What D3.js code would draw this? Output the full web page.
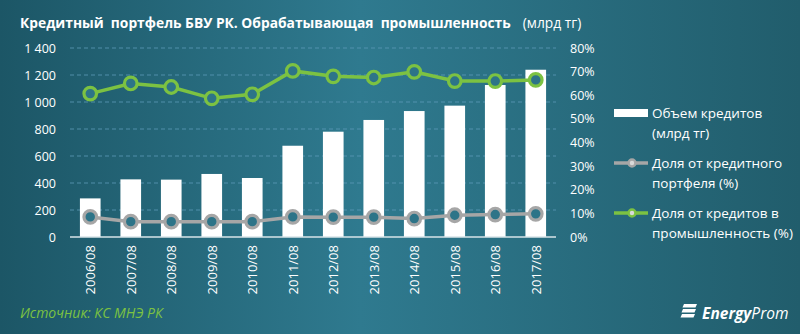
<!DOCTYPE html>
<html><head><meta charset="utf-8">
<script src="https://cdn.jsdelivr.net/npm/d3@7"></script>
<style>
html,body{margin:0;padding:0;overflow:hidden;}
svg{display:block;}
text{font-family:"Open Sans","DejaVu Sans",sans-serif;}
</style></head>
<body>
<svg id="c" width="800" height="334"></svg>
<script>
const categories = ["2006/08","2007/08","2008/08","2009/08","2010/08","2011/08","2012/08","2013/08","2014/08","2015/08","2016/08","2017/08"];
const loans = [286, 427, 425, 467, 437, 676, 780, 867, 933, 973, 1126, 1239];
const sharePortfolio = [8.5, 6.5, 6.5, 6.5, 6.5, 8.5, 8.4, 8.4, 7.8, 9.2, 9.5, 9.8];
const shareIndustry = [60.7, 65.0, 63.5, 58.7, 60.4, 70.3, 68.0, 67.5, 69.9, 66.0, 66.0, 66.5];
const leftTicks = [0,200,400,600,800,1000,1200,1400];
const rightTicks = [0,10,20,30,40,50,60,70,80];
const legendItems = [
  {type:"bar", lines:["Объем кредитов","(млрд тг)"]},
  {type:"gray", lines:["Доля от кредитного","портфеля (%)"]},
  {type:"green", lines:["Доля от кредитов в","промышленность (%)"]}
];

const W=800,H=334;
const svg=d3.select("#c");
const defs=svg.append("defs");
const g=defs.append("linearGradient").attr("id","bg").attr("x1","0").attr("x2","1").attr("y1","0").attr("y2","0");
g.append("stop").attr("offset","0").attr("stop-color","#1c5666");
g.append("stop").attr("offset","0.45").attr("stop-color","#2f7a8f");
g.append("stop").attr("offset","1").attr("stop-color","#215d6c");
svg.append("rect").attr("width",W).attr("height",H).attr("fill","url(#bg)");

const m={l:70,r:556,t:48,b:237};
const x=d3.scaleBand().domain(categories).range([m.l,m.r]).paddingInner(0.49).paddingOuter(0.245);
const xc=d=>x(d)+x.bandwidth()/2;
const yL=d3.scaleLinear().domain([0,1400]).range([m.b,m.t]);
const yR=d3.scaleLinear().domain([0,80]).range([m.b,m.t]);

// gridlines
svg.append("g").selectAll("line").data(leftTicks.filter(t=>t>0)).join("line")
  .attr("x1",m.l).attr("x2",m.r).attr("y1",d=>yL(d)).attr("y2",d=>yL(d))
  .attr("stroke","#5d9ab8").attr("stroke-width",1).attr("stroke-dasharray","4,3").attr("opacity",0.8);

// left axis
const fmt=d=>d3.format(",")(d).replace(/,/g," ");
const ax=svg.append("g").attr("transform",`translate(${m.l},0)`)
  .call(d3.axisLeft(yL).tickValues(leftTicks).tickFormat(fmt).tickSize(0).tickPadding(14));
ax.select(".domain").remove();
ax.selectAll("text").attr("fill","#ffffff").attr("font-size","12.5px");

// right axis
const ar=svg.append("g").attr("transform",`translate(${m.r},0)`)
  .call(d3.axisRight(yR).tickValues(rightTicks).tickFormat(d=>d+"%").tickSize(0).tickPadding(14));
ar.select(".domain").remove();
ar.selectAll("text").attr("fill","#ffffff").attr("font-size","12.5px");

// bars
svg.append("g").selectAll("rect").data(loans).join("rect")
  .attr("x",(d,i)=>x(categories[i])).attr("width",x.bandwidth())
  .attr("y",d=>yL(d)).attr("height",d=>yL(0)-yL(d)).attr("fill","#ffffff");

// baseline
svg.append("line").attr("x1",m.l).attr("x2",m.r).attr("y1",m.b).attr("y2",m.b).attr("stroke","#d9e4e8").attr("stroke-width",1.5);

// x labels
svg.append("g").selectAll("text").data(categories).join("text")
  .attr("transform",d=>`translate(${xc(d)+5},${m.b+8}) rotate(-90)`)
  .attr("text-anchor","end").attr("fill","#ffffff").attr("font-size","13px").text(d=>d);

function series(vals,color){
  const line=d3.line().x((d,i)=>xc(categories[i])).y(d=>yR(d));
  svg.append("path").datum(vals).attr("d",line).attr("fill","none").attr("stroke",color).attr("stroke-width",3.5);
  svg.append("g").selectAll("circle").data(vals).join("circle")
    .attr("cx",(d,i)=>xc(categories[i])).attr("cy",d=>yR(d)).attr("r",6.3)
    .attr("fill","#2d7488").attr("stroke",color).attr("stroke-width",3.2);
}
series(sharePortfolio,"#a6a6a6");
series(shareIndustry,"#7cc242");

// legend
const lg=svg.append("g");
legendItems.forEach((it,i)=>{
  const y0=113+i*50;
  if(it.type==="bar"){
    lg.append("rect").attr("x",614).attr("y",y0-4).attr("width",34).attr("height",8).attr("fill","#fff");
  } else {
    const col=it.type==="gray"?"#a6a6a6":"#7cc242";
    lg.append("line").attr("x1",614).attr("x2",648).attr("y1",y0).attr("y2",y0).attr("stroke",col).attr("stroke-width",3.5);
    lg.append("circle").attr("cx",632).attr("cy",y0).attr("r",3.5).attr("fill","#d9d9d9").attr("stroke",col).attr("stroke-width",2.5);
  }
  it.lines.forEach((t,j)=>{
    lg.append("text").attr("x",652).attr("y",y0+5+j*20).attr("fill","#fff").attr("font-size","13.5px").text(t);
  });
});

// title
const tt=svg.append("text").attr("x",20).attr("y",28).attr("fill","#fff").attr("font-size","13.8px").style("white-space","pre");
tt.append("tspan").attr("font-weight","bold").text("Кредитный  портфель БВУ РК. Обрабатывающая  промышленность");
tt.append("tspan").attr("dx",12).text("(млрд тг)");

// source
svg.append("text").attr("x",20).attr("y",318).attr("fill","#7cc242").attr("font-size","14px").attr("font-style","italic").text("Источник: КС МНЭ РК");

// logo
const lo=svg.append("g").attr("transform","translate(682,319)");
[0,5,10].forEach(dy=>lo.append("path").attr("d",`M${2-dy*0.2},${-15+dy} h13 l-1.5,3.5 h-13 z`).attr("fill","#fff"));
const lt=lo.append("text").attr("x",20).attr("y",0).attr("fill","#fff").attr("font-size","15.5px").attr("font-style","italic");
lt.append("tspan").attr("font-weight","bold").text("Energy");
lt.append("tspan").attr("font-weight","normal").text("Prom");
</script>
</body></html>
